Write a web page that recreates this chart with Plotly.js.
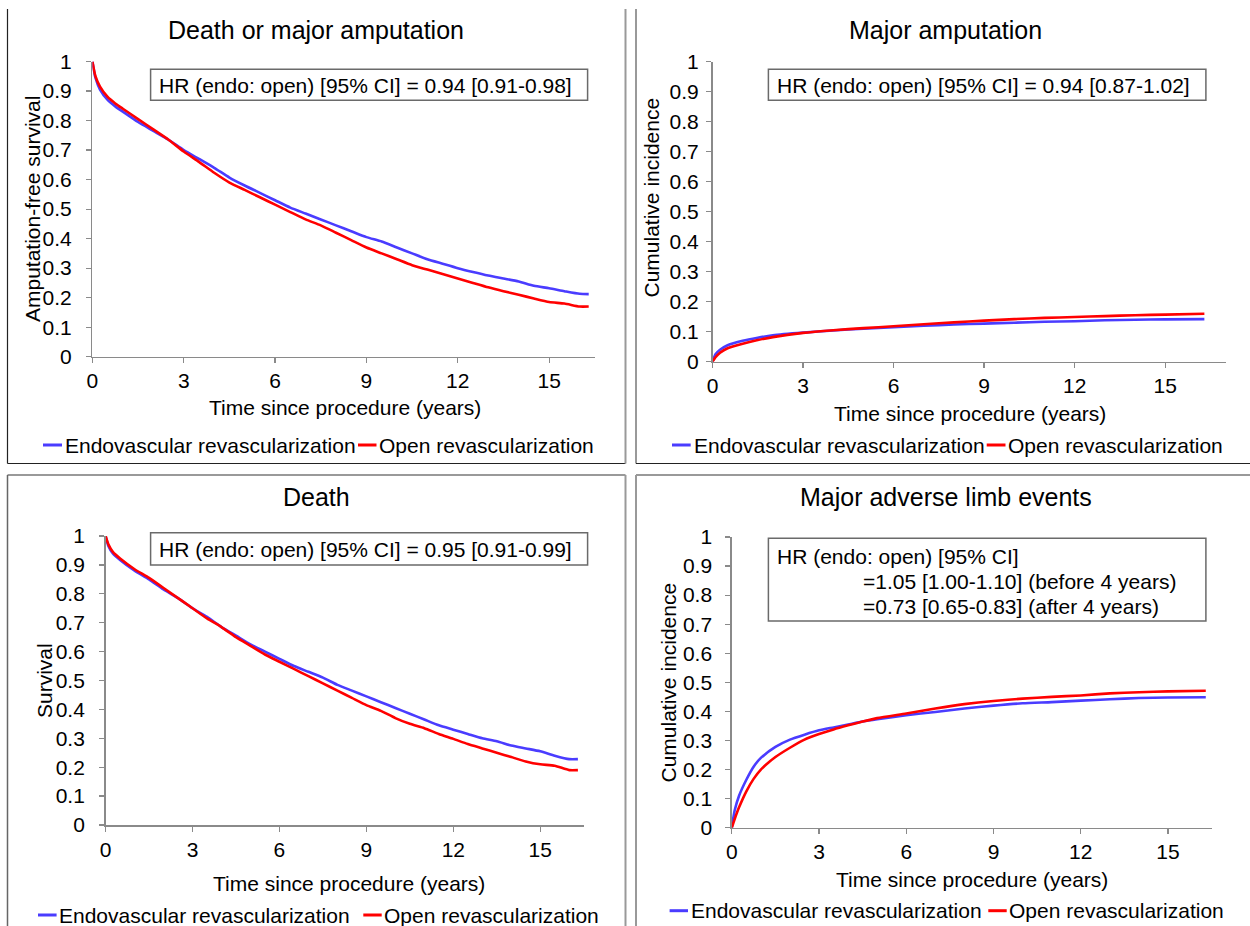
<!DOCTYPE html>
<html>
<head>
<meta charset="utf-8">
<script src="https://cdn.plot.ly/plotly-3.0.1.min.js"></script>
<style>html,body{margin:0;padding:0;background:#fff;}#chart{width:1250px;height:926px;}</style>
</head>
<body>
<div id="chart"></div>
<script>
// ---------- DATA ----------
const xTicks = [0, 3, 6, 9, 12, 15];
const yTicks = [0, 0.1, 0.2, 0.3, 0.4, 0.5, 0.6, 0.7, 0.8, 0.9, 1];
const yTickLabels = ["0", "0.1", "0.2", "0.3", "0.4", "0.5", "0.6", "0.7", "0.8", "0.9", "1"];
const seriesNames = ["Endovascular revascularization", "Open revascularization"];

// Panel 1: Death or major amputation (amputation-free survival)
const afsTime = [0, 0.1, 0.25, 0.5, 0.75, 1, 1.5, 2, 2.5, 3, 3.5, 4, 4.5, 5, 5.5, 6, 6.5, 7, 7.5, 8, 8.5, 9, 9.5, 10, 10.5, 11, 11.5, 12, 12.5, 13, 13.5, 14, 14.5, 15, 15.5, 16, 16.3];
const afsEndo = [1, 0.945, 0.905, 0.87, 0.848, 0.83, 0.795, 0.765, 0.735, 0.70, 0.67, 0.64, 0.607, 0.58, 0.555, 0.53, 0.505, 0.485, 0.465, 0.445, 0.425, 0.405, 0.39, 0.37, 0.35, 0.33, 0.315, 0.30, 0.287, 0.275, 0.265, 0.255, 0.24, 0.232, 0.222, 0.213, 0.212];
const afsOpen = [1, 0.95, 0.915, 0.88, 0.858, 0.84, 0.805, 0.77, 0.735, 0.695, 0.66, 0.623, 0.59, 0.565, 0.54, 0.515, 0.49, 0.465, 0.445, 0.42, 0.395, 0.37, 0.35, 0.33, 0.31, 0.295, 0.28, 0.265, 0.25, 0.235, 0.222, 0.21, 0.197, 0.185, 0.18, 0.17, 0.17];

// Panel 2: Major amputation (cumulative incidence)
const ampTime = [0, 0.1, 0.25, 0.5, 1, 1.5, 2, 3, 4, 5, 6, 7, 8, 9, 10, 11, 12, 13, 14, 15, 16.3];
const ampEndo = [0, 0.025, 0.04, 0.055, 0.07, 0.08, 0.088, 0.097, 0.104, 0.11, 0.115, 0.12, 0.124, 0.127, 0.13, 0.133, 0.135, 0.138, 0.14, 0.141, 0.142];
const ampOpen = [0, 0.015, 0.03, 0.045, 0.06, 0.072, 0.082, 0.096, 0.105, 0.112, 0.118, 0.125, 0.131, 0.137, 0.142, 0.146, 0.149, 0.152, 0.155, 0.157, 0.16];

// Panel 3: Death (survival)
const survTime = [0, 0.1, 0.25, 0.5, 1, 1.5, 2, 2.5, 3, 3.5, 4, 4.5, 5, 5.5, 6, 6.5, 7, 7.5, 8, 8.5, 9, 9.5, 10, 10.5, 11, 11.5, 12, 12.5, 13, 13.5, 14, 14.5, 15, 15.5, 16, 16.3];
const survEndo = [1, 0.965, 0.94, 0.917, 0.88, 0.85, 0.815, 0.785, 0.75, 0.72, 0.685, 0.655, 0.625, 0.6, 0.575, 0.55, 0.53, 0.51, 0.485, 0.465, 0.445, 0.425, 0.405, 0.385, 0.365, 0.345, 0.33, 0.315, 0.30, 0.29, 0.275, 0.265, 0.255, 0.24, 0.228, 0.228];
const survOpen = [1, 0.97, 0.945, 0.922, 0.885, 0.855, 0.82, 0.785, 0.75, 0.715, 0.685, 0.65, 0.62, 0.59, 0.565, 0.54, 0.515, 0.49, 0.465, 0.44, 0.415, 0.395, 0.37, 0.35, 0.335, 0.315, 0.298, 0.28, 0.265, 0.25, 0.235, 0.22, 0.21, 0.205, 0.19, 0.19];

// Panel 4: Major adverse limb events (cumulative incidence)
const maleTime = [0, 0.1, 0.25, 0.5, 0.75, 1, 1.5, 2, 2.5, 3, 3.5, 4, 4.5, 5, 6, 7, 8, 9, 10, 11, 12, 13, 14, 15, 16.3];
const maleEndo = [0, 0.06, 0.11, 0.165, 0.21, 0.24, 0.278, 0.303, 0.32, 0.335, 0.345, 0.355, 0.365, 0.373, 0.387, 0.398, 0.41, 0.42, 0.428, 0.432, 0.437, 0.442, 0.446, 0.448, 0.449];
const maleOpen = [0, 0.03, 0.07, 0.125, 0.168, 0.2, 0.243, 0.275, 0.303, 0.322, 0.338, 0.352, 0.365, 0.377, 0.393, 0.41, 0.425, 0.436, 0.444, 0.45, 0.455, 0.462, 0.466, 0.469, 0.471];

const panelTitles = ["Death or major amputation", "Major amputation", "Death", "Major adverse limb events"];
const yTitles = ["Amputation-free survival", "Cumulative incidence", "Survival", "Cumulative incidence"];
const xTitle = "Time since procedure (years)";
const hrTexts = [
  ["HR (endo: open) [95% CI] = 0.94 [0.91-0.98]"],
  ["HR (endo: open) [95% CI] = 0.94 [0.87-1.02]"],
  ["HR (endo: open) [95% CI] = 0.95 [0.91-0.99]"],
  ["HR (endo: open) [95% CI]", "=1.05 [1.00-1.10] (before 4 years)", "=0.73 [0.65-0.83] (after 4 years)"]
];

// ---------- LAYOUT HELPERS (pixel -> paper) ----------
const W = 1250, H = 926;
const px = v => v / W;
const py = v => 1 - v / H;
const BLUE = '#4a3cff', RED = '#ff0000';
const FONT = 'Liberation Sans, Arial, sans-serif';
const FS = 21;

// panel geometry (pixels)
const panels = [
  {x0: 92.4, x1: 594.8, yTop: 61.5, yBot: 356.7, xmax: 16.5, title: [316, 30], yt: [32, 209], xt: [345, 408], tls: 10,
   box: [150.6, 69.3, 587.6, 100.3], boxText: [[156.5, 85]],
   leg: {y: 445, b: [43, 62], bt: 62.5, r: [358, 376.5], rt: 376.5}},
  {x0: 712.5, x1: 1225.5, yTop: 61.7, yBot: 361.7, xmax: 17, title: [945, 30], yt: [651, 197.5], xt: [969.6, 413], tls: 3,
   box: [768.4, 69.3, 1205.9, 100.3], boxText: [[774.6, 85]],
   leg: {y: 445, b: [672, 690.7], bt: 691.5, r: [986.7, 1005.5], rt: 1005.5}},
  {x0: 105.6, x1: 583.7, yTop: 536, yBot: 825, xmax: 16.5, title: [316, 496.7], yt: [44, 681], xt: [349, 883.3], tls: 10,
   box: [150.6, 532.7, 587.6, 565], boxText: [[156.5, 549]],
   leg: {y: 915, b: [38, 56.6], bt: 57, r: [363.3, 381.7], rt: 381.7}},
  {x0: 731.8, x1: 1211.6, yTop: 537, yBot: 827.7, xmax: 16.5, title: [945.7, 496.7], yt: [668, 682.5], xt: [972, 879.3], tls: 9,
   box: [768.4, 538.3, 1205.9, 621], boxText: [[774.6, 556], [861, 581], [861, 606]],
   leg: {y: 910.7, b: [669.6, 688], bt: 688.5, r: [988.3, 1006.7], rt: 1006.7}}
];

const dataSets = [
  [afsTime, afsEndo, afsOpen],
  [ampTime, ampEndo, ampOpen],
  [survTime, survEndo, survOpen],
  [maleTime, maleEndo, maleOpen]
];

const traces = [];
const layout = {
  width: W, height: H,
  margin: {l: 0, r: 0, t: 0, b: 0},
  paper_bgcolor: '#fff', plot_bgcolor: 'rgba(0,0,0,0)',
  showlegend: false,
  font: {family: FONT, size: FS, color: '#000'},
  annotations: [], shapes: []
};

panels.forEach((p, i) => {
  const n = i + 1;
  const xa = 'x' + (n === 1 ? '' : n), ya = 'y' + (n === 1 ? '' : n);
  const xk = 'xaxis' + (n === 1 ? '' : n), yk = 'yaxis' + (n === 1 ? '' : n);
  const [t, e, o] = dataSets[i];
  traces.push({x: t, y: e, xaxis: xa, yaxis: ya, type: 'scatter', mode: 'lines', name: seriesNames[0],
               line: {color: BLUE, width: 2.6, shape: 'spline', smoothing: 0.6}, hoverinfo: 'skip'});
  traces.push({x: t, y: o, xaxis: xa, yaxis: ya, type: 'scatter', mode: 'lines', name: seriesNames[1],
               line: {color: RED, width: 2.6, shape: 'spline', smoothing: 0.6}, hoverinfo: 'skip'});
  const axCommon = {showline: true, linecolor: '#8a8a8a', linewidth: 1.5, ticks: 'outside', ticklen: 5,
                    tickcolor: '#8a8a8a', tickwidth: 1.2, showgrid: false, zeroline: false, fixedrange: true,
                    tickfont: {family: FONT, size: FS, color: '#000'}};
  layout[xk] = Object.assign({}, axCommon, {domain: [px(p.x0), px(p.x1)], range: [0, p.xmax],
                    tickvals: xTicks, ticktext: xTicks.map(String), anchor: ya});
  layout[yk] = Object.assign({}, axCommon, {domain: [py(p.yBot), py(p.yTop)], range: [0, 1],
                    tickvals: yTicks, ticktext: yTickLabels, anchor: xa, ticklabelstandoff: p.tls});

  // titles
  layout.annotations.push({xref: 'paper', yref: 'paper', x: px(p.title[0]), y: py(p.title[1]), xanchor: 'center', yanchor: 'middle',
    text: panelTitles[i], showarrow: false, font: {family: FONT, size: 25, color: '#000'}});
  layout.annotations.push({xref: 'paper', yref: 'paper', x: px(p.yt[0]), y: py(p.yt[1]), xanchor: 'center', yanchor: 'middle',
    text: yTitles[i], textangle: -90, showarrow: false, font: {family: FONT, size: FS, color: '#000'}});
  layout.annotations.push({xref: 'paper', yref: 'paper', x: px(p.xt[0]), y: py(p.xt[1]), xanchor: 'center', yanchor: 'middle',
    text: xTitle, showarrow: false, font: {family: FONT, size: FS, color: '#000'}});

  // HR box
  layout.shapes.push({type: 'rect', xref: 'paper', yref: 'paper', x0: px(p.box[0]), x1: px(p.box[2]),
    y0: py(p.box[3]), y1: py(p.box[1]), line: {color: '#6a6a6a', width: 1.5}, fillcolor: '#fff', layer: 'below'});
  hrTexts[i].forEach((s, k) => {
    layout.annotations.push({xref: 'paper', yref: 'paper', x: px(p.boxText[k][0]), y: py(p.boxText[k][1]),
      xanchor: 'left', yanchor: 'middle', text: s, showarrow: false, font: {family: FONT, size: FS, color: '#000'}});
  });

  // legend
  const L = p.leg;
  layout.shapes.push({type: 'line', xref: 'paper', yref: 'paper', x0: px(L.b[0]), x1: px(L.b[1]), y0: py(L.y), y1: py(L.y),
    line: {color: BLUE, width: 3}});
  layout.shapes.push({type: 'line', xref: 'paper', yref: 'paper', x0: px(L.r[0]), x1: px(L.r[1]), y0: py(L.y), y1: py(L.y),
    line: {color: RED, width: 3}});
  layout.annotations.push({xref: 'paper', yref: 'paper', x: px(L.bt), y: py(L.y), xanchor: 'left', yanchor: 'middle',
    text: seriesNames[0], showarrow: false, font: {family: FONT, size: FS, color: '#000'}});
  layout.annotations.push({xref: 'paper', yref: 'paper', x: px(L.rt), y: py(L.y), xanchor: 'left', yanchor: 'middle',
    text: seriesNames[1], showarrow: false, font: {family: FONT, size: FS, color: '#000'}});
});

// panel borders
const border = (x0, y0, x1, y1, color, w) => layout.shapes.push({type: 'line', xref: 'paper', yref: 'paper',
  x0: px(x0), y0: py(y0), x1: px(x1), y1: py(y1), line: {color: color, width: w}});
border(7.5, 9, 7.5, 463.5, '#222', 1.2);
border(7.5, 463.5, 625.5, 463.5, '#222', 1.2);
border(625.5, 9, 625.5, 463.5, '#999', 2);
border(636, 9, 636, 463.5, '#999', 2);
border(636, 463.5, 1250, 463.5, '#222', 1.2);
border(7.5, 475, 625.5, 475, '#999', 2);
border(7.5, 475, 7.5, 926, '#666', 1.5);
border(625.5, 475, 625.5, 926, '#999', 2);
border(636, 475, 1250, 475, '#999', 2);
border(636, 475, 636, 926, '#999', 2);

Plotly.newPlot('chart', traces, layout, {staticPlot: true, displayModeBar: false});
</script>
</body>
</html>
